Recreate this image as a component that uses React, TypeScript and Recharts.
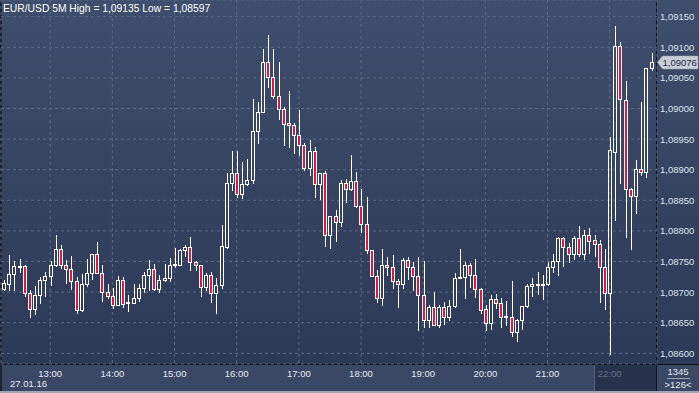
import React from 'react';
import { ComposedChart, Bar, XAxis, YAxis, CartesianGrid, ReferenceLine } from 'recharts';

const FONT = '"Liberation Sans", Arial, sans-serif';
const FS = 9.5;

// EUR/USD 5M candles, 12:15 .. 22:40
const opens = [
  1.08705, 1.08714, 1.08729, 1.08741, 1.08742, 1.08699, 1.08673, 1.08695, 1.08719, 1.08726,
  1.08745, 1.08770, 1.08744, 1.08737, 1.08718, 1.08670, 1.08714, 1.08732, 1.08762, 1.08731,
  1.08700, 1.08693, 1.08679, 1.08719, 1.08682, 1.08682, 1.08691, 1.08706, 1.08728, 1.08738,
  1.08705, 1.08720, 1.08723, 1.08744, 1.08745, 1.08768, 1.08774, 1.08749, 1.08744, 1.08708,
  1.08728, 1.08699, 1.08712, 1.08774, 1.08878, 1.08894, 1.08860, 1.08876, 1.08883, 1.08964,
  1.08995, 1.09076, 1.09051, 1.09020, 1.08999, 1.08976, 1.08973, 1.08956, 1.08940, 1.08902,
  1.08931, 1.08876, 1.08894, 1.08794, 1.08824, 1.08815, 1.08878, 1.08868, 1.08881, 1.08840,
  1.08811, 1.08768, 1.08727, 1.08691, 1.08744, 1.08741, 1.08718, 1.08714, 1.08752, 1.08741,
  1.08726, 1.08695, 1.08654, 1.08675, 1.08647, 1.08675, 1.08660, 1.08677, 1.08723, 1.08725,
  1.08744, 1.08728, 1.08705, 1.08672, 1.08649, 1.08689, 1.08682, 1.08659, 1.08659, 1.08634,
  1.08654, 1.08677, 1.08710, 1.08713, 1.08713, 1.08714, 1.08741, 1.08750, 1.08788, 1.08773,
  1.08762, 1.08789, 1.08763, 1.08793, 1.08785, 1.08778, 1.08741, 1.08698, 1.08929, 1.09102,
  1.09014, 1.08868, 1.08857, 1.08901, 1.08896, 1.09067,
];

const highs = [
  1.08720, 1.08761, 1.08750, 1.08754, 1.08745, 1.08703, 1.08710, 1.08724, 1.08733, 1.08751,
  1.08793, 1.08777, 1.08752, 1.08759, 1.08724, 1.08729, 1.08754, 1.08763, 1.08782, 1.08745,
  1.08713, 1.08706, 1.08726, 1.08725, 1.08696, 1.08714, 1.08714, 1.08733, 1.08752, 1.08746,
  1.08728, 1.08746, 1.08755, 1.08772, 1.08770, 1.08777, 1.08790, 1.08750, 1.08745, 1.08731,
  1.08733, 1.08723, 1.08810, 1.08894, 1.08931, 1.08931, 1.08913, 1.08918, 1.09016, 1.09010,
  1.09098, 1.09120, 1.09098, 1.09076, 1.09002, 1.09029, 1.08977, 1.08998, 1.08944, 1.08949,
  1.08937, 1.08894, 1.08898, 1.08824, 1.08834, 1.08883, 1.08884, 1.08924, 1.08896, 1.08868,
  1.08855, 1.08768, 1.08736, 1.08770, 1.08757, 1.08761, 1.08721, 1.08755, 1.08757, 1.08749,
  1.08757, 1.08750, 1.08679, 1.08700, 1.08679, 1.08683, 1.08687, 1.08732, 1.08770, 1.08749,
  1.08748, 1.08754, 1.08706, 1.08679, 1.08695, 1.08697, 1.08690, 1.08685, 1.08718, 1.08656,
  1.08677, 1.08714, 1.08723, 1.08733, 1.08728, 1.08749, 1.08763, 1.08790, 1.08790, 1.08780,
  1.08792, 1.08808, 1.08801, 1.08804, 1.08794, 1.08785, 1.08770, 1.08953, 1.09135, 1.09108,
  1.09045, 1.08870, 1.08916, 1.09011, 1.09067, 1.09090,
];

const lows = [
  1.08702, 1.08701, 1.08701, 1.08731, 1.08692, 1.08658, 1.08663, 1.08680, 1.08692, 1.08710,
  1.08741, 1.08737, 1.08713, 1.08703, 1.08664, 1.08668, 1.08708, 1.08720, 1.08729, 1.08684,
  1.08688, 1.08673, 1.08677, 1.08674, 1.08668, 1.08680, 1.08684, 1.08699, 1.08701, 1.08701,
  1.08698, 1.08717, 1.08717, 1.08739, 1.08743, 1.08758, 1.08734, 1.08734, 1.08692, 1.08701,
  1.08682, 1.08665, 1.08705, 1.08770, 1.08866, 1.08853, 1.08852, 1.08873, 1.08876, 1.08942,
  1.08992, 1.09033, 1.09016, 1.08982, 1.08939, 1.08936, 1.08926, 1.08923, 1.08898, 1.08890,
  1.08853, 1.08850, 1.08774, 1.08770, 1.08782, 1.08806, 1.08846, 1.08866, 1.08838, 1.08797,
  1.08763, 1.08725, 1.08682, 1.08678, 1.08726, 1.08705, 1.08674, 1.08705, 1.08720, 1.08702,
  1.08637, 1.08642, 1.08642, 1.08645, 1.08642, 1.08647, 1.08652, 1.08674, 1.08721, 1.08689,
  1.08706, 1.08691, 1.08665, 1.08637, 1.08638, 1.08672, 1.08642, 1.08645, 1.08627, 1.08618,
  1.08638, 1.08674, 1.08692, 1.08695, 1.08687, 1.08710, 1.08731, 1.08727, 1.08741, 1.08747,
  1.08752, 1.08757, 1.08752, 1.08763, 1.08758, 1.08682, 1.08671, 1.08597, 1.08816, 1.08877,
  1.08788, 1.08769, 1.08828, 1.08889, 1.08887, 1.09062,
];

const closes = [
  1.08715, 1.08729, 1.08742, 1.08743, 1.08699, 1.08673, 1.08695, 1.08719, 1.08726, 1.08745,
  1.08770, 1.08744, 1.08737, 1.08718, 1.08670, 1.08714, 1.08732, 1.08762, 1.08731, 1.08700,
  1.08693, 1.08679, 1.08719, 1.08681, 1.08684, 1.08691, 1.08706, 1.08728, 1.08738, 1.08705,
  1.08720, 1.08723, 1.08745, 1.08746, 1.08769, 1.08774, 1.08749, 1.08744, 1.08708, 1.08728,
  1.08699, 1.08712, 1.08775, 1.08878, 1.08894, 1.08860, 1.08876, 1.08883, 1.08964, 1.08995,
  1.09076, 1.09051, 1.09020, 1.08999, 1.08975, 1.08973, 1.08956, 1.08940, 1.08903, 1.08931,
  1.08876, 1.08894, 1.08794, 1.08824, 1.08815, 1.08878, 1.08868, 1.08881, 1.08840, 1.08811,
  1.08768, 1.08726, 1.08691, 1.08744, 1.08741, 1.08718, 1.08714, 1.08752, 1.08741, 1.08726,
  1.08695, 1.08654, 1.08675, 1.08647, 1.08675, 1.08659, 1.08677, 1.08723, 1.08725, 1.08744,
  1.08728, 1.08705, 1.08670, 1.08649, 1.08689, 1.08682, 1.08660, 1.08661, 1.08634, 1.08654,
  1.08677, 1.08710, 1.08713, 1.08714, 1.08714, 1.08741, 1.08750, 1.08788, 1.08773, 1.08762,
  1.08789, 1.08763, 1.08793, 1.08784, 1.08778, 1.08741, 1.08699, 1.08932, 1.09102, 1.09015,
  1.08868, 1.08857, 1.08901, 1.08896, 1.09067, 1.09076,
];

// candle index of each full hour
const hourTicks = [9, 21, 33, 45, 57, 69, 81, 93, 105, 117];
const hourLabels = ['13:00', '14:00', '15:00', '16:00', '17:00', '18:00', '19:00', '20:00', '21:00', '22:00'];
const priceTicks = [1.086, 1.0865, 1.087, 1.0875, 1.088, 1.0885, 1.089, 1.0895, 1.09, 1.0905, 1.091, 1.0915];
const lastPrice = 1.09076;
const title = 'EUR/USD 5M High = 1,09135 Low = 1,08597';
const dateLabel = '27.01.16';
const counterTop = '1345';
const counterBottom = '>126<';

const data = opens.map((open, i) => ({
  i,
  open,
  high: highs[i],
  low: lows[i],
  close: closes[i],
  range: [lows[i], highs[i]],
}));

const fmt = (v: number) => v.toFixed(5).replace('.', ',');

const Candle = (props: any) => {
  const { x, y, width, height, payload } = props;
  if (!payload || !height) return null;
  const { open, close, high, low } = payload;
  const c = Math.round(x + width / 2);
  const k = height / (high - low);
  const yOf = (v: number) => Math.round(y + (high - v) * k);
  const top = yOf(Math.max(open, close));
  let bot = yOf(Math.min(open, close));
  if (bot - top < 1) bot = top + 1;
  const yh = yOf(high);
  const yl = yOf(low);
  const bear = close < open;
  return (
    <g>
      {yh < top && <line x1={c + 0.5} x2={c + 0.5} y1={yh} y2={top} stroke="#ffffff" strokeWidth={1} />}
      {yl > bot && <line x1={c + 0.5} x2={c + 0.5} y1={bot} y2={yl} stroke="#ffffff" strokeWidth={1} />}
      <rect
        x={c - 1.5}
        y={top + 0.5}
        width={3}
        height={bot - top}
        fill={bear ? '#e3173e' : 'none'}
        stroke="#ffffff"
        strokeWidth={1}
      />
    </g>
  );
};

const XTick = ({ x, y, payload }: any) => {
  const idx = hourTicks.indexOf(payload.value);
  const label = hourLabels[idx];
  const dim = label === '22:00';
  return (
    <text x={x} y={y + 13} textAnchor="middle" fontSize={FS} fontFamily={FONT} fill={dim ? '#63708a' : '#e4e9f2'}>
      {label}
    </text>
  );
};

const YTick = ({ x, y, payload }: any) => (
  <text x={x + 3} y={y + 3.5} textAnchor="start" fontSize={FS} fontFamily={FONT} fill="#dde3ee">
    {fmt(payload.value)}
  </text>
);

const PriceTag = ({ viewBox }: any) => {
  if (!viewBox) return null;
  const x0 = viewBox.x + viewBox.width + 0.5;
  const yc = viewBox.y + 0.5;
  const pts = `${x0},${yc} ${x0 + 5},${yc - 6.5} ${x0 + 40.5},${yc - 6.5} ${x0 + 40.5},${yc + 6.5} ${x0 + 5},${yc + 6.5}`;
  return (
    <g>
      <polygon points={pts} fill="#c9ced6" stroke="#9aa2ae" strokeWidth={0.5} />
      <text x={x0 + 5} y={yc + 3.5} fontSize={FS} fontFamily={FONT} fill="#1e2a44">
        {fmt(lastPrice)}
      </text>
    </g>
  );
};

export default function App() {
  return (
    <div style={{ position: 'absolute', left: 0, top: 0, width: 699, height: 393, overflow: 'hidden', background: '#3b4865' }}>
      {/* plot + right panel background */}
      <div style={{ position: 'absolute', left: 0, top: 0, width: 699, height: 364, background: 'linear-gradient(#3f4e6c, #2c3957)' }} />
      {/* 22:00 dark box */}
      <div style={{ position: 'absolute', left: 594, top: 365, width: 62, height: 26, background: '#27334c', borderLeft: '1px solid #56627a' }} />
      {/* separators */}
      <div style={{ position: 'absolute', left: 0, top: 364, width: 699, height: 1, background: '#0e121a' }} />
      <div style={{ position: 'absolute', left: 656, top: 0, width: 1, height: 391, background: '#0e121a' }} />
      <div style={{ position: 'absolute', left: 0, top: 0, width: 2, height: 393, background: '#1c2331' }} />
      <div style={{ position: 'absolute', left: 0, top: 391, width: 699, height: 2, background: '#9da6b6' }} />

      <div style={{ position: 'absolute', left: 0, top: 0 }}>
        <ComposedChart width={699} height={393} data={data} margin={{ top: 0, right: 0, bottom: 0, left: 1 }}>
          <CartesianGrid stroke="#5a6985" strokeDasharray="3 3" />
          <XAxis
            type="number"
            dataKey="i"
            domain={[-0.5, 126.14]}
            allowDataOverflow
            ticks={hourTicks}
            interval={0}
            height={29}
            axisLine={false}
            tickLine={false}
            tickSize={0}
            tickMargin={0}
            tick={<XTick />}
          />
          <YAxis
            orientation="right"
            type="number"
            domain={[1.085825, 1.091773]}
            allowDataOverflow
            ticks={priceTicks}
            interval={0}
            width={42}
            axisLine={false}
            tickLine={false}
            tickSize={0}
            tickMargin={0}
            tick={<YTick />}
          />
          <Bar dataKey="range" barSize={4} isAnimationActive={false} shape={(p: any) => <Candle {...p} />} />
          <ReferenceLine y={lastPrice} stroke="none" label={{ content: (p: any) => <PriceTag viewBox={p.viewBox} /> }} />
        </ComposedChart>
      </div>

      <svg width={699} height={393} style={{ position: 'absolute', left: 0, top: 0, pointerEvents: 'none' }}>
        <text x={3} y={12} fontSize={10.3} fontFamily={FONT} fill="#ffffff">{title}</text>
        <text x={10} y={387} fontSize={FS} fontFamily={FONT} fill="#e4e9f2">{dateLabel}</text>
        <text x={678} y={375} textAnchor="middle" fontSize={FS} fontFamily={FONT} fill="#e4e9f2">{counterTop}</text>
        <line x1={667} x2={690} y1={378.5} y2={378.5} stroke="#9aa3b4" />
        <text x={678} y={388} textAnchor="middle" fontSize={FS} fontFamily={FONT} fill="#e4e9f2">{counterBottom}</text>
      </svg>
    </div>
  );
}
